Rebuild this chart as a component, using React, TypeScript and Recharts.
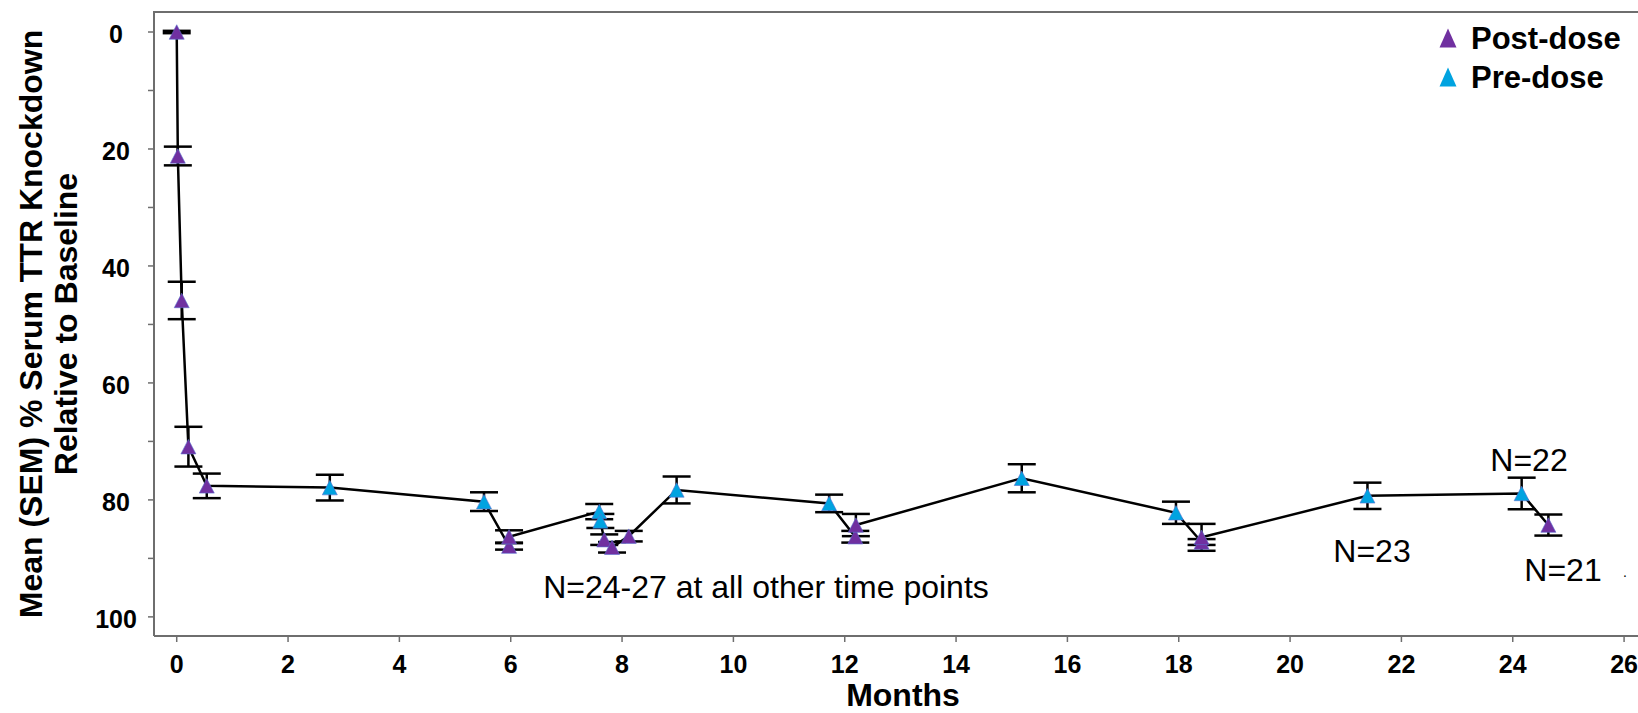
import React from 'react';
import { ComposedChart, Scatter, XAxis, YAxis, ErrorBar } from 'recharts';

// ---- data ----
const months = [0, 0.02, 0.09, 0.21, 0.54, 2.75, 5.52, 5.97, 5.97, 7.59, 7.61, 7.68, 7.82, 8.12, 8.98, 11.72, 12.19, 12.2, 15.18, 17.95, 18.41, 18.41, 21.39, 24.16, 24.64];
const knockdown = [0, 21.2, 45.9, 70.9, 77.6, 77.9, 80.3, 87.9, 86.3, 82.0, 83.6, 86.8, 88.1, 86.2, 78.3, 80.6, 86.3, 84.3, 76.3, 82.2, 87.2, 86.4, 79.3, 78.9, 84.3];
const sem = [0.2, 1.6, 3.2, 3.4, 2.1, 2.2, 1.6, 0.6, 1.1, 1.3, 1.2, 0.9, 0.9, 0.9, 2.3, 1.5, 1.0, 1.9, 2.4, 1.9, 0.5, 2.3, 2.25, 2.7, 1.8];
const sampling = ['post', 'post', 'post', 'post', 'post', 'pre', 'pre', 'post', 'post', 'pre', 'pre', 'post', 'post', 'post', 'pre', 'pre', 'post', 'post', 'pre', 'pre', 'post', 'post', 'pre', 'pre', 'post'];
const xTicks = [0, 2, 4, 6, 8, 10, 12, 14, 16, 18, 20, 22, 24, 26];
const yTicks = [0, 10, 20, 30, 40, 50, 60, 70, 80, 90, 100];
const seriesNames = ['Post-dose', 'Pre-dose'];
const nNotes = ['N=24-27 at all other time points', 'N=23', 'N=22', 'N=21'];

const FONT = '"Liberation Sans", Arial, Helvetica, sans-serif';
const PURPLE = '#7030A0';
const CYAN = '#00A3E0';
const AXIS = '#6e6e6e';
const Y_MIN = -3.42;
const Y_MAX = 103.27;

const points = months.map((m, i) => ({ x: m, y: knockdown[i], sem: sem[i], group: sampling[i] }));
const postPoints = points.filter((p) => p.group === 'post');
const prePoints = points.filter((p) => p.group === 'pre');

const triangle = (color: string) => (props: any) => {
  const { cx, cy } = props;
  if (cx == null || cy == null) return <g />;
  const w = 15;
  const h = 14.5;
  return (
    <polygon
      points={`${cx},${cy - h / 2} ${cx + w / 2},${cy + h / 2} ${cx - w / 2},${cy + h / 2}`}
      fill={color}
      stroke="#5a6fd0"
      strokeWidth={0.6}
    />
  );
};

const XTick = (props: any) => {
  const { x, payload } = props;
  return (
    <text x={x} y={673} textAnchor="middle" fontFamily={FONT} fontWeight="bold" fontSize={25} fill="#000">
      {payload.value}
    </text>
  );
};

const YTick = (props: any) => {
  const { y, payload } = props;
  if (payload.value % 20 !== 0) return <g />;
  return (
    <text x={116} y={y + 11} textAnchor="middle" fontFamily={FONT} fontWeight="bold" fontSize={25} fill="#000">
      {payload.value}
    </text>
  );
};

export default function App() {
  return (
    <div style={{ position: 'absolute', left: 0, top: 0, width: 1638, height: 713, background: '#fff' }}>
      <ComposedChart width={1638} height={713} margin={{ top: 12, right: 0, bottom: 0, left: 0 }}>
        <XAxis
          dataKey="x"
          type="number"
          domain={[-0.408, 26.25]}
          ticks={xTicks}
          allowDataOverflow
          height={77}
          tickSize={6}
          tick={XTick}
          axisLine={{ stroke: AXIS, strokeWidth: 2 }}
          tickLine={{ stroke: AXIS, strokeWidth: 1.5 }}
        />
        <YAxis
          dataKey="y"
          type="number"
          reversed
          domain={[Y_MIN, Y_MAX]}
          ticks={yTicks}
          allowDataOverflow
          width={154}
          tickSize={6}
          tick={YTick}
          axisLine={{ stroke: AXIS, strokeWidth: 2 }}
          tickLine={{ stroke: AXIS, strokeWidth: 1.5 }}
        />
        {/* top frame line of the plot box */}
        <line x1={153} y1={12} x2={1638} y2={12} stroke={AXIS} strokeWidth={2} />
        <Scatter
          data={points}
          line={{ stroke: '#000', strokeWidth: 2.5 }}
          lineType="joint"
          shape={() => <g />}
          isAnimationActive={false}
        />
        <Scatter data={postPoints} shape={triangle(PURPLE)} isAnimationActive={false}>
          <ErrorBar dataKey="sem" direction="y" width={14} stroke="#000" strokeWidth={2.5} />
        </Scatter>
        <Scatter data={prePoints} shape={triangle(CYAN)} isAnimationActive={false}>
          <ErrorBar dataKey="sem" direction="y" width={14} stroke="#000" strokeWidth={2.5} />
        </Scatter>

        {/* y-axis title */}
        <text transform="rotate(-90, 42, 324)" x={42} y={324} textAnchor="middle" fontFamily={FONT} fontWeight="bold" fontSize={32} fill="#000">
          Mean (SEM) % Serum TTR Knockdown
        </text>
        <text transform="rotate(-90, 77, 324)" x={77} y={324} textAnchor="middle" fontFamily={FONT} fontWeight="bold" fontSize={32} fill="#000">
          Relative to Baseline
        </text>
        {/* x-axis title */}
        <text x={903} y={706} textAnchor="middle" fontFamily={FONT} fontWeight="bold" fontSize={32} fill="#000">
          Months
        </text>

        {/* legend */}
        <polygon points="1448,28.5 1456.5,47.5 1439.5,47.5" fill={PURPLE} />
        <text x={1471} y={49} fontFamily={FONT} fontWeight="bold" fontSize={31} fill="#000">{seriesNames[0]}</text>
        <polygon points="1448,67.5 1456.5,86.5 1439.5,86.5" fill={CYAN} />
        <text x={1471} y={87.5} fontFamily={FONT} fontWeight="bold" fontSize={31} fill="#000">{seriesNames[1]}</text>

        {/* N annotations */}
        <text x={766} y={598} textAnchor="middle" fontFamily={FONT} fontSize={32} fill="#000">{nNotes[0]}</text>
        <text x={1372} y={562} textAnchor="middle" fontFamily={FONT} fontSize={32} fill="#000">{nNotes[1]}</text>
        <text x={1529} y={471} textAnchor="middle" fontFamily={FONT} fontSize={32} fill="#000">{nNotes[2]}</text>
        <text x={1563} y={581} textAnchor="middle" fontFamily={FONT} fontSize={32} fill="#000">{nNotes[3]}</text>
        <text x={1625} y={577} textAnchor="middle" fontFamily={FONT} fontSize={14} fill="#000">.</text>
      </ComposedChart>
    </div>
  );
}
